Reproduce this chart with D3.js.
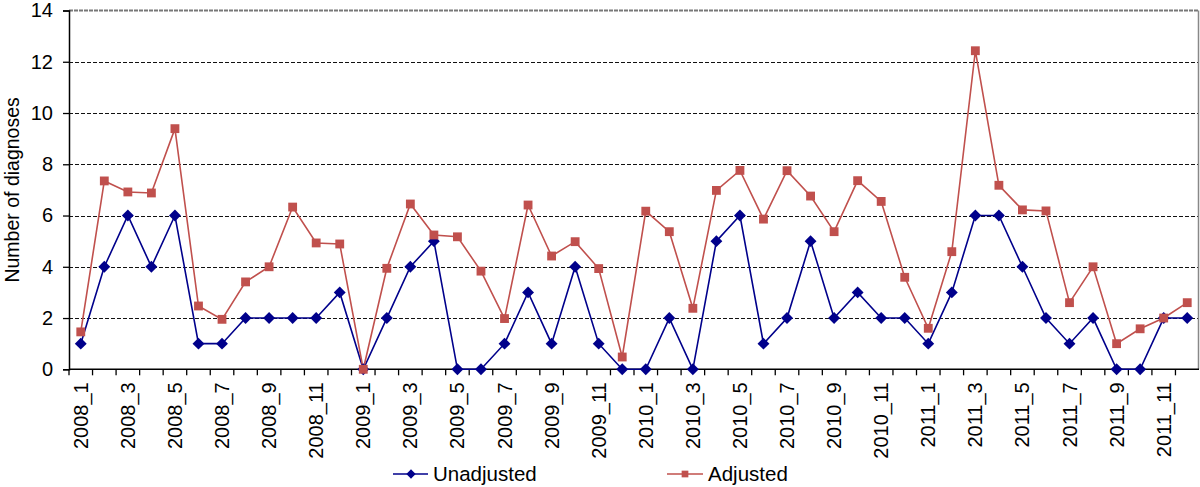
<!DOCTYPE html>
<html><head><meta charset="utf-8">
<script src="https://cdn.jsdelivr.net/npm/d3@7"></script>
<style>body{margin:0;background:#fff}svg{display:block}text{font-family:"Liberation Sans",Arial,Helvetica,sans-serif}</style>
</head><body><svg id="c" width="1200" height="487"></svg>
<script>
const months = [];
["2008","2009","2010","2011"].forEach(y=>{for(let m=1;m<=12;m++)months.push(y+"_"+m);});
const unadjusted = [1,4,6,4,6,1,1,2,2,2,2,3, 0,2,4,5,0,0,1,3,1,4,1,0, 0,2,0,5,6,1,2,5,2,3,2,2, 1,3,6,6,4,2,1,2,0,0,2,2];
const adjusted = [1.46,7.35,6.92,6.88,9.39,2.47,1.95,3.41,4.0,6.33,4.93,4.89,
  0,3.94,6.45,5.24,5.17,3.83,1.98,6.41,4.42,4.98,3.93,0.48,
  6.17,5.37,2.38,6.98,7.76,5.86,7.75,6.76,5.37,7.36,6.55,3.59,
  1.6,4.59,12.43,7.18,6.22,6.18,2.6,4.0,1.0,1.58,2.0,2.6];
const yTicks = [0,2,4,6,8,10,12,14];
const seriesNames = ["Unadjusted","Adjusted"];
const colors = ["#00008B","#C0504D"];

const svg = d3.select("#c");
const L=69, R=1199, T=10.5, B=369.3;
const x = d3.scaleBand().domain(months).range([L,R]).padding(0);
const y = d3.scaleLinear().domain([0,14]).range([B,T]);
const FONT = "Liberation Sans, Arial, sans-serif";

// gridlines
svg.append("g").selectAll("line").data(yTicks.filter(d=>d>0&&d<14)).join("line")
  .attr("x1",L).attr("x2",R).attr("y1",d=>Math.round(y(d))+0.5).attr("y2",d=>Math.round(y(d))+0.5)
  .attr("stroke","#111").attr("stroke-width",1.2).attr("stroke-dasharray","4,2");
// top and right frame
svg.append("line").attr("x1",L).attr("x2",R).attr("y1",y(14)).attr("y2",y(14)).attr("stroke","#777").attr("stroke-width",2).attr("stroke-dasharray","4,1");
svg.append("line").attr("x1",R-0.5).attr("x2",R-0.5).attr("y1",y(14)).attr("y2",B).attr("stroke","#888").attr("stroke-width",1.5);

// y axis
const ya = svg.append("g").attr("transform",`translate(${L},0)`)
  .call(d3.axisLeft(y).tickValues(yTicks).tickSize(6).tickPadding(10));
ya.select(".domain").attr("stroke","#000").attr("stroke-width",1.5);
ya.selectAll(".tick line").attr("stroke","#000").attr("stroke-width",1.3);
ya.selectAll("text").attr("font-size",20).attr("fill","#000").attr("font-family",FONT);

// x axis
const xa = svg.append("g").attr("transform",`translate(0,${B})`)
  .call(d3.axisBottom(x).tickSize(0).tickFormat((d,i)=> i%2===0 ? d : ""));
xa.select(".domain").remove();
svg.append("line").attr("x1",L).attr("x2",R).attr("y1",B).attr("y2",B).attr("stroke","#000").attr("stroke-width",1.5);
svg.append("g").selectAll("line").data(months).join("line")
  .attr("x1",d=>x(d)).attr("x2",d=>x(d)).attr("y1",B).attr("y2",B+6)
  .attr("stroke","#000").attr("stroke-width",1.3);
xa.selectAll("text").attr("font-size",20).attr("fill","#000")
  .attr("font-family",FONT)
  .attr("text-anchor","end").attr("y",0).attr("x",0)
  .attr("transform","translate(0,13) rotate(-90)").attr("dy","0.35em");

// y title
svg.append("text").attr("transform",`translate(19,${(T+B)/2}) rotate(-90)`)
  .attr("text-anchor","middle").attr("font-size",19.5).attr("fill","#000").text("Number of diagnoses");

const line = d3.line().x((d,i)=>x(months[i])+x.bandwidth()/2).y(d=>y(d));
const diamond = d3.symbol().type(d3.symbolDiamond2 || d3.symbolDiamond).size(90);
const square = d3.symbol().type(d3.symbolSquare).size(78);

[[unadjusted,0],[adjusted,1]].forEach(([data,k])=>{
  svg.append("path").datum(data).attr("d",line).attr("fill","none").attr("stroke",colors[k]).attr("stroke-width",1.6);
});
[[unadjusted,0,diamond],[adjusted,1,square]].forEach(([data,k,sym])=>{
  svg.append("g").selectAll("path").data(data).join("path")
    .attr("transform",(d,i)=>`translate(${x(months[i])+x.bandwidth()/2},${y(d)})`)
    .attr("d",sym()).attr("fill",colors[k]);
});

// legend
const legDiamond = d3.symbol().type(d3.symbolDiamond2 || d3.symbolDiamond).size(55);
const legSquare = d3.symbol().type(d3.symbolSquare).size(45);
const leg = [[393,428,411,433,0,legDiamond],[667,703,685,708,1,legSquare]];
leg.forEach(([x1,x2,mx,tx,k,sym])=>{
  const ly=474;
  svg.append("line").attr("x1",x1).attr("x2",x2).attr("y1",ly).attr("y2",ly).attr("stroke",colors[k]).attr("stroke-width",1.6);
  svg.append("path").attr("transform",`translate(${mx},${ly})`).attr("d",sym()).attr("fill",colors[k]);
  svg.append("text").attr("x",tx).attr("y",ly).attr("dy","0.36em").attr("font-size",20.5).attr("fill","#000").text(seriesNames[k]);
});
</script></body></html>
